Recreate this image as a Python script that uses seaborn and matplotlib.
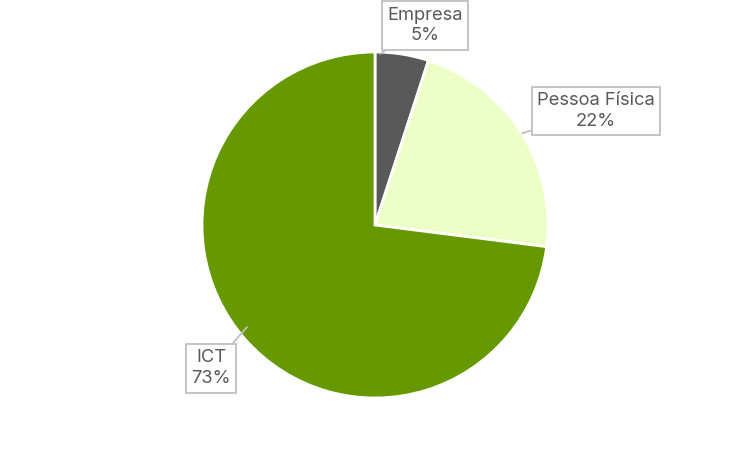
import matplotlib
matplotlib.use("Agg")
import matplotlib.pyplot as plt
import seaborn as sns

# data
categories = ["Empresa", "Pessoa Física", "ICT"]
shares = [5, 22, 73]
colors = ["#595959", "#EBFFC6", "#669900"]

sns.set_theme(style="white")
plt.rcParams["font.family"] = ["Inter", "DejaVu Sans"]

fig = plt.figure(figsize=(7.5, 4.51), dpi=100)
r_px = 173
cx, cy = 375, 225
ax = fig.add_axes([(cx - r_px) / 750, (451 - cy - r_px) / 451, 2 * r_px / 750, 2 * r_px / 451])

wedges, _ = ax.pie(shares, colors=colors, startangle=90, counterclock=False,
                   wedgeprops=dict(edgecolor="white", linewidth=2))
ax.set_xlim(-1, 1)
ax.set_ylim(-1, 1)
ax.set_aspect("equal")
ax.axis("off")

# label box positions (data coords) and pointer tips
label_pos = [(0.289, 1.153), (1.277, 0.659), (-0.948, -0.827)]
tips = [(0.03, 0.99), (0.85, 0.53), (-0.74, -0.59)]

for name, val, pos, tip in zip(categories, shares, label_pos, tips):
    ax.annotate(f"{name}\n{val}%", xy=tip, xytext=pos, ha="center", va="center",
                fontsize=13.2, color="#595959", linespacing=1.3,
                bbox=dict(boxstyle="square,pad=0.3", fc="white", ec="#BFBFBF", lw=1.3),
                arrowprops=dict(arrowstyle="-", color="#BFBFBF", lw=1.3, shrinkA=0, shrinkB=0),
                annotation_clip=False)

fig.savefig("out.png", dpi=100)
